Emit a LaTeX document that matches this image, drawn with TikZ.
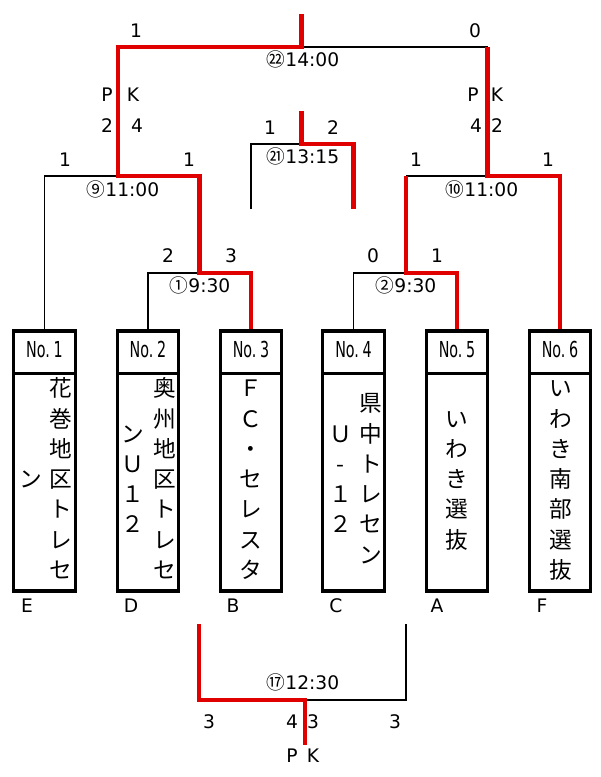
\documentclass[tikz,border=0pt]{standalone}
\usepackage{fontspec}
\setmainfont{DejaVu Sans}
\newfontfamily\jp{Noto Sans CJK JP}
\newfontfamily\hdrfont{DejaVu Sans}[FakeStretch=0.65]
\definecolor{winred}{RGB}{224,0,0}
\tikzset{
  lbl/.style={inner sep=0pt, font=\fontsize{14}{16}\selectfont, text height=0.729em, text depth=0pt},
  loseline/.style={line width=1pt, black},
  winline/.style={line width=3.4pt, winred, line join=miter},
  hdr/.style={draw, line width=2.5pt, minimum width=46.1pt, minimum height=31.9pt, inner sep=0pt,
    font=\hdrfont\fontsize{16.5}{18}\selectfont, text height=0.8em, text depth=0pt},
  teambody/.style={draw, line width=2.5pt, minimum width=46.1pt, minimum height=163.1pt, inner sep=0pt},
  ch/.style={inner sep=0pt, font=\jp\fontsize{17}{20}\selectfont, text height=0.88em, text depth=0.12em},
}
\newcommand\teamcol[4]{%
  \foreach \c [count=\k] in {#4} {\node[ch] (#1-\k) at (#2,{#3+30.27*(\k-1)}) {\c};}%
}
\begin{document}
\begin{tikzpicture}[x=0.75pt,y=-0.75pt]
\fill[white] (0,0) rectangle (600,777);
\useasboundingbox (0,0) rectangle (600,777);

% team boxes
\foreach \i/\x in {1/44.5,2/148,3/251,4/353.5,5/457,6/560} {
  \node[hdr] (h\i) at (\x,352.25) {No.\,\i};
  \node[teambody] (t\i) at (\x,482.25) {};
}
% names (vertical)
\teamcol{n1r}{60.5}{391.7}{花,巻,地,区,ト,レ,セ}
\teamcol{n1l}{30.8}{482.5}{ン}
\teamcol{n2r}{164.4}{391.7}{奥,州,地,区,ト,レ,セ}
\teamcol{n2l}{132.7}{437.1}{ン,Ｕ,１,２}
\teamcol{n3}{250.8}{391.7}{Ｆ,Ｃ,・,セ,レ,ス,タ}
\teamcol{n4r}{370.4}{406.8}{県,中,ト,レ,セ,ン}
\teamcol{n4l}{340.4}{437.1}{Ｕ,-,１,２}
\teamcol{n5}{457}{422}{い,わ,き,選,抜}
\teamcol{n6}{560.8}{391.7}{い,わ,き,南,部,選,抜}

% junction coordinates
\coordinate (f-top) at (301.5,14);
\coordinate (f-j) at (301.5,47);
\coordinate (f-l) at (118,47);
\coordinate (f-r) at (487.5,47);
\coordinate (m9-l) at (44.5,176);
\coordinate (m9-j) at (118,176);
\coordinate (m9-r) at (199.5,176);
\coordinate (m10-l) at (406,176);
\coordinate (m10-j) at (487.5,176);
\coordinate (m10-r) at (560,176);
\coordinate (m1-l) at (148,273);
\coordinate (m1-j) at (199.5,273);
\coordinate (m1-r) at (251,273);
\coordinate (m2-l) at (353.5,273);
\coordinate (m2-j) at (406,273);
\coordinate (m2-r) at (457,273);
\coordinate (m21-top) at (301.5,111);
\coordinate (m21-j) at (301.5,144);
\coordinate (m21-l) at (251,144);
\coordinate (m21-r) at (353.5,144);
\coordinate (m21-lb) at (251,209);
\coordinate (m21-rb) at (353.5,209);
\coordinate (m17-lt) at (199,624);
\coordinate (m17-rt) at (406,624);
\coordinate (m17-l) at (199,700);
\coordinate (m17-j) at (305,700);
\coordinate (m17-r) at (406,700);
\coordinate (m17-bot) at (305,745);

% losing lines
\draw[loseline] (h1.north) -- (m9-l) -- (m9-j);
\draw[loseline] (h2.north) -- (m1-l) -- (m1-j);
\draw[loseline] (f-j) -- (f-r);
\draw[loseline] (m10-l) -- (m10-j);
\draw[loseline] (h4.north) -- (m2-l) -- (m2-j);
\draw[loseline] (m21-lb) -- (m21-l) -- (m21-j);
\draw[loseline] (m17-rt) -- (m17-r) -- (m17-j);

% winning lines
\draw[winline] (h3.north) -- (m1-r) -- (m1-j) -- (m9-r) -- (m9-j) -- (f-l) -- (f-j) -- (f-top);
\draw[winline] (h5.north) -- (m2-r) -- (m2-j) -- (m10-l);
\draw[winline] (h6.north) -- (m10-r) -- (m10-j) -- (f-r);
\draw[winline] (m21-rb) -- (m21-r) -- (m21-j) -- (m21-top);
\draw[winline] (m17-lt) -- (m17-l) -- (m17-j) -- (m17-bot);

% final
\node[lbl] (sf1) at (136,33) {1};
\node[lbl] (sf2) at (475,33) {0};
\node[lbl] (tf) at (303,62) {{\jp ㉒}14:00};
\node[lbl] (pl1) at (107,97) {P};
\node[lbl] (pl2) at (133,97) {K};
\node[lbl] (pl3) at (107,128) {2};
\node[lbl] (pl4) at (137,128) {4};
\node[lbl] (pr1) at (473,97) {P};
\node[lbl] (pr2) at (497,97) {K};
\node[lbl] (pr3) at (476,128) {4};
\node[lbl] (pr4) at (497,128) {2};
% match 9
\node[lbl] (s91) at (65,162) {1};
\node[lbl] (s92) at (189,162) {1};
\node[lbl] (t9) at (123,192) {{\jp ⑨}11:00};
% match 10
\node[lbl] (s101) at (416,162) {1};
\node[lbl] (s102) at (548,162) {1};
\node[lbl] (t10) at (482,192) {{\jp ⑩}11:00};
% match 1
\node[lbl] (s11) at (168,258) {2};
\node[lbl] (s12) at (231,258) {3};
\node[lbl] (t1m) at (200,288) {{\jp ①}9:30};
% match 2
\node[lbl] (s21) at (373,258) {0};
\node[lbl] (s22) at (437,258) {1};
\node[lbl] (t2m) at (406,288) {{\jp ②}9:30};
% match 21
\node[lbl] (s211) at (270,130) {1};
\node[lbl] (s212) at (333,130) {2};
\node[lbl] (t21) at (303,159) {{\jp ㉑}13:15};
% group letters
\node[lbl] (gE) at (27,608) {E};
\node[lbl] (gD) at (131,608) {D};
\node[lbl] (gB) at (233,608) {B};
\node[lbl] (gC) at (336,608) {C};
\node[lbl] (gA) at (437,608) {A};
\node[lbl] (gF) at (542,608) {F};
% match 17
\node[lbl] (t17) at (303,685) {{\jp ⑰}12:30};
\node[lbl] (s171) at (209,724) {3};
\node[lbl] (s172) at (292,724) {4};
\node[lbl] (s173) at (313,724) {3};
\node[lbl] (s174) at (395,724) {3};
\node[lbl] (p171) at (292,758) {P};
\node[lbl] (p172) at (313,758) {K};
\end{tikzpicture}
\end{document}
